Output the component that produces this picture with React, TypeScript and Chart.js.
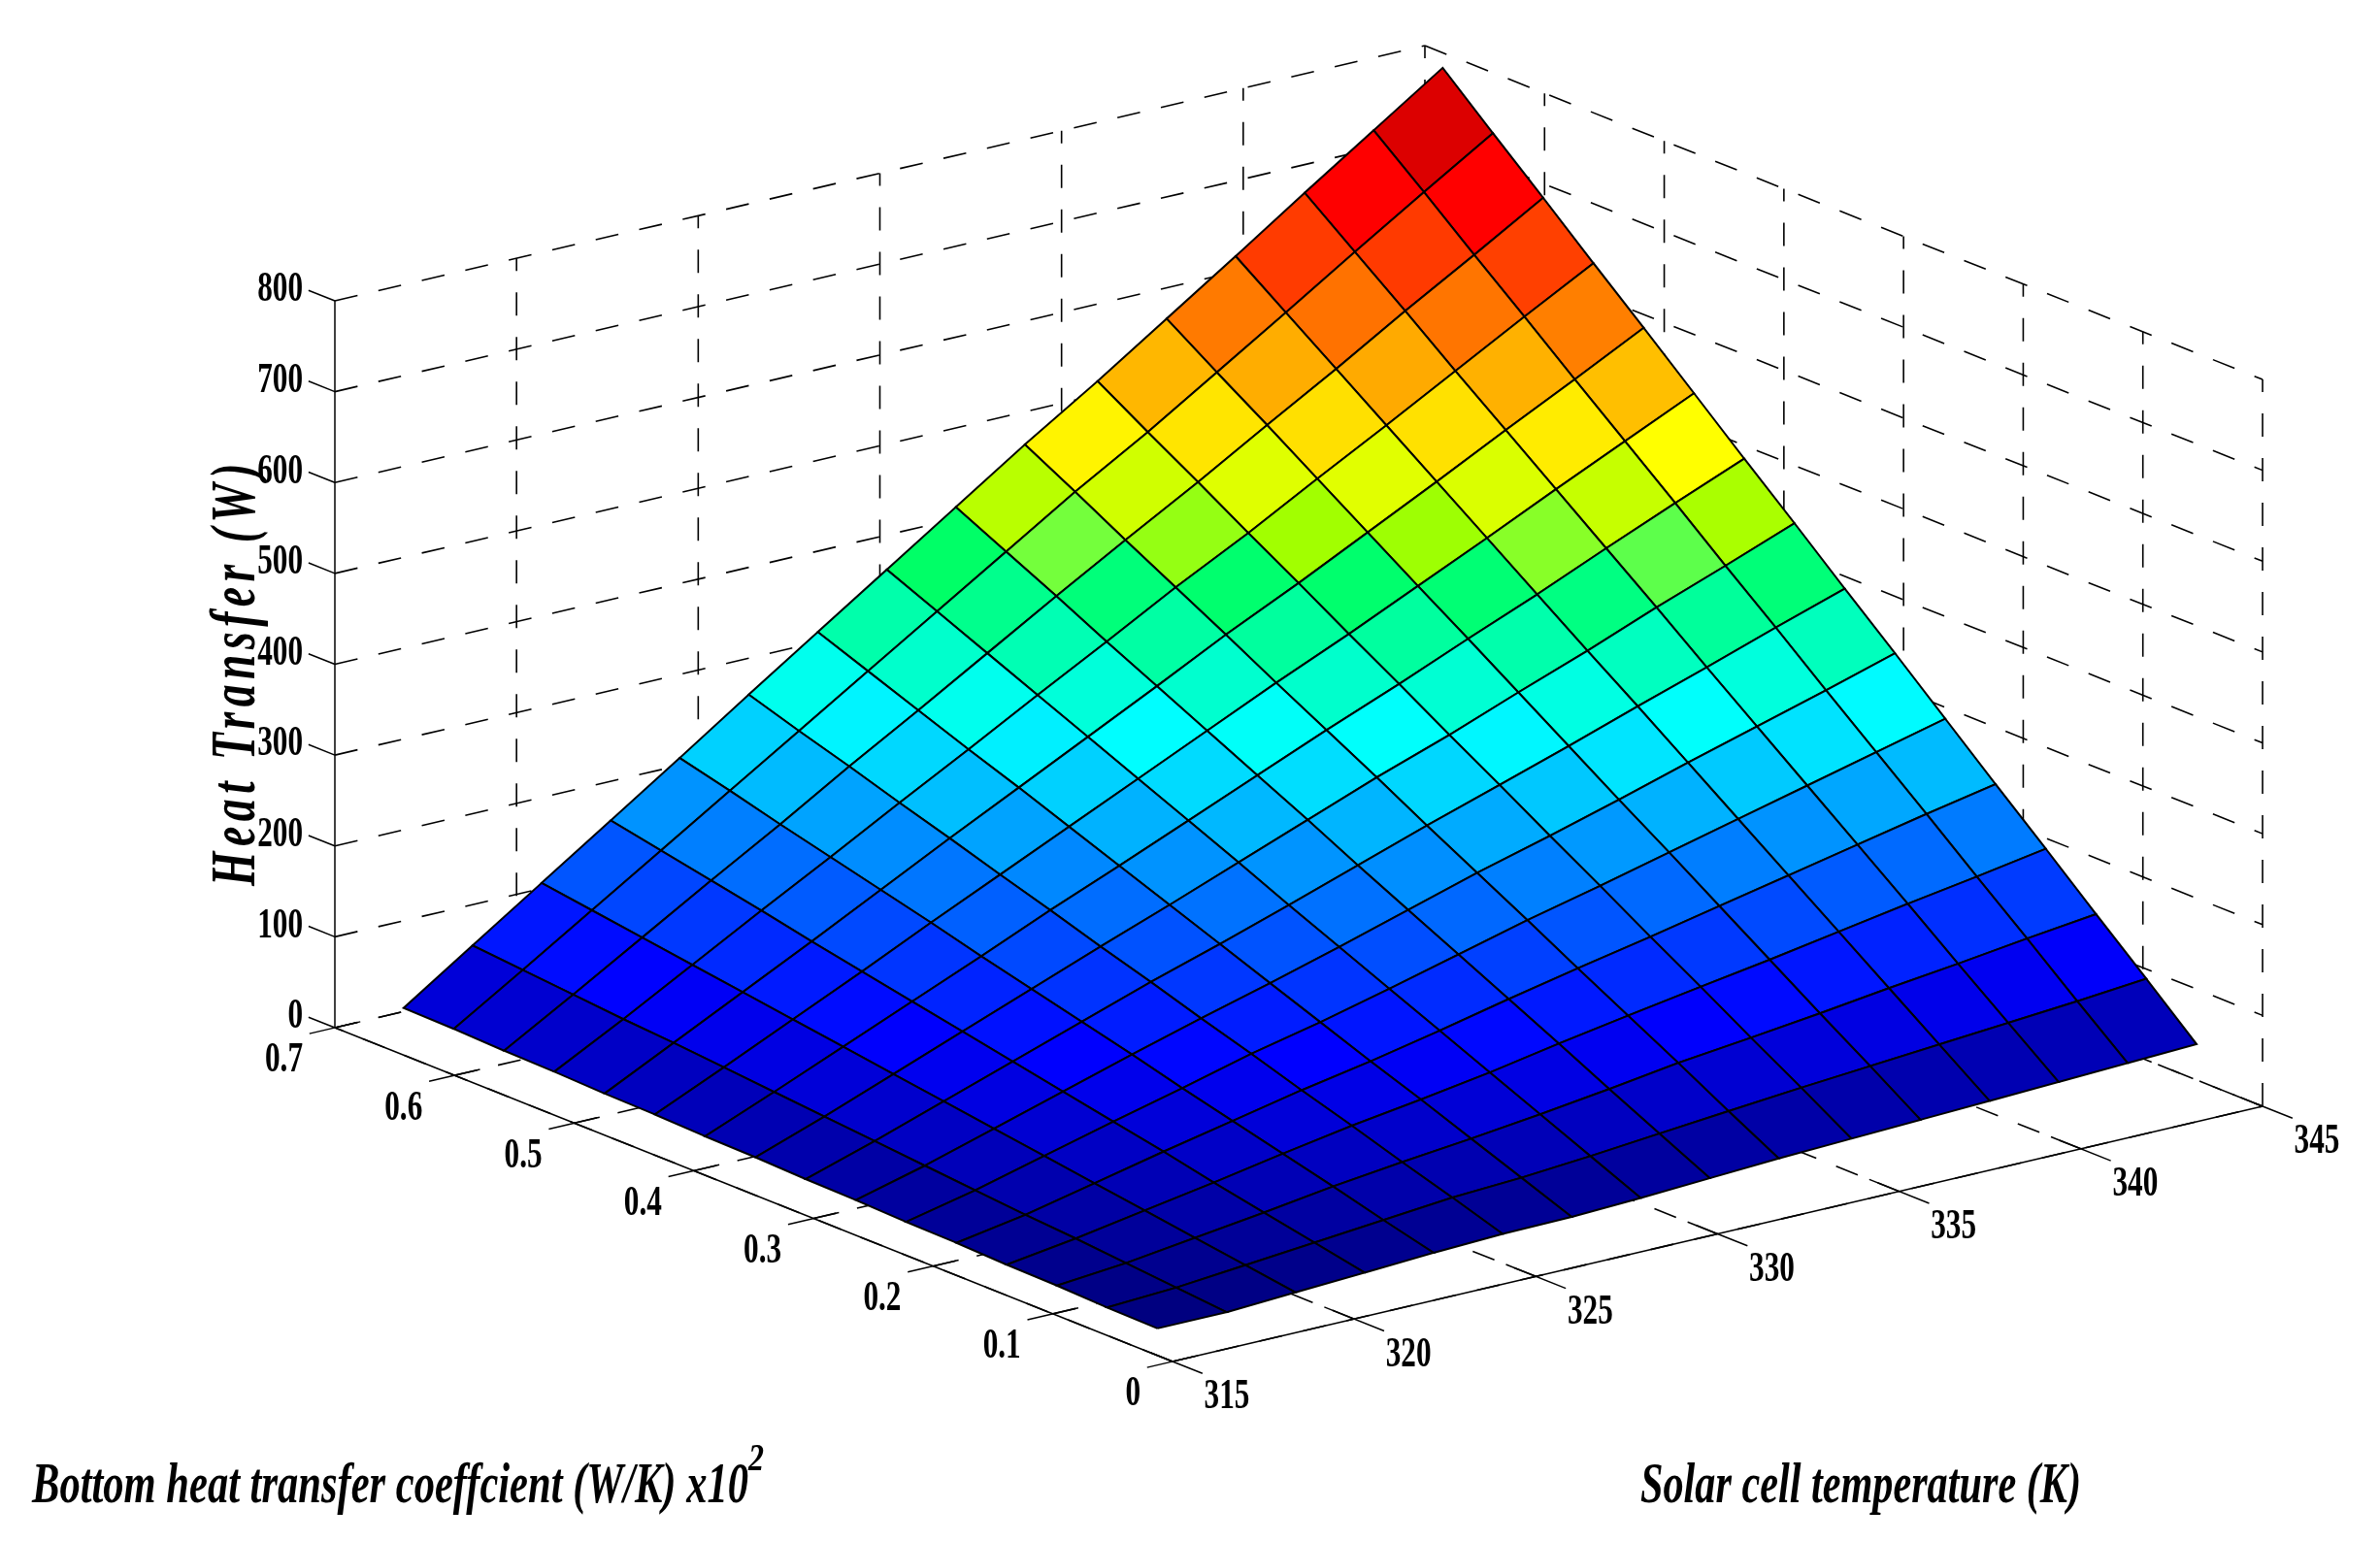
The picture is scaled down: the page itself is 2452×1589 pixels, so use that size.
import { useEffect, useRef } from "react"
import { Chart, registerables } from "chart.js"

Chart.register(...registerables)

const WIDTH = 2452
const HEIGHT = 1589

// grid of the surface
const temperatures = [316.1, 318.0, 319.9, 321.8, 323.7, 325.6, 327.5, 329.4, 331.3, 333.2, 335.2, 337.1, 339.0, 340.9, 342.8, 344.7]
const coefficients = [0.046, 0.088, 0.13, 0.172, 0.214, 0.256, 0.298, 0.34, 0.382, 0.424, 0.466, 0.508, 0.55, 0.592, 0.634, 0.676]

// heat transfer (W), one row per temperature, one column per coefficient
const heatTransfer = [
  [2, 3, 5, 6, 8, 9, 11, 12, 14, 15, 17, 18, 20, 21, 23, 24],
  [2, 7, 12, 17, 21, 26, 31, 36, 41, 46, 51, 56, 60, 65, 70, 75],
  [6, 14, 22, 30, 38, 46, 54, 62, 70, 78, 86, 94, 102, 110, 118, 126],
  [10, 21, 32, 43, 55, 66, 77, 88, 99, 110, 121, 132, 144, 155, 166, 177],
  [14, 28, 43, 57, 71, 85, 100, 114, 128, 142, 157, 171, 185, 199, 214, 228],
  [17, 35, 52, 70, 87, 105, 122, 140, 157, 175, 192, 210, 227, 245, 262, 280],
  [18, 39, 60, 81, 101, 122, 143, 164, 185, 206, 227, 248, 268, 289, 310, 331],
  [21, 45, 69, 93, 117, 141, 165, 189, 214, 238, 262, 286, 310, 334, 358, 382],
  [25, 52, 79, 107, 134, 161, 188, 215, 243, 270, 297, 324, 351, 379, 406, 433],
  [29, 59, 90, 120, 150, 181, 211, 241, 272, 302, 332, 363, 393, 423, 454, 484],
  [32, 66, 99, 133, 166, 200, 233, 267, 300, 334, 367, 401, 434, 468, 501, 535],
  [35, 72, 108, 145, 182, 219, 255, 292, 329, 366, 402, 439, 476, 513, 549, 586],
  [38, 78, 118, 158, 198, 238, 278, 318, 357, 397, 437, 477, 517, 557, 597, 637],
  [41, 84, 127, 171, 214, 257, 300, 343, 387, 430, 473, 516, 559, 603, 646, 689],
  [44, 90, 137, 183, 230, 276, 322, 369, 415, 462, 508, 554, 601, 647, 694, 740],
  [47, 97, 146, 196, 245, 295, 345, 394, 444, 493, 543, 593, 642, 692, 741, 791],
]

const temperatureTicks = [315, 320, 325, 330, 335, 340, 345]
const coefficientTicks = [0, 0.1, 0.2, 0.3, 0.4, 0.5, 0.6, 0.7]
const heatTicks = [0, 100, 200, 300, 400, 500, 600, 700, 800]

const T_MIN = 315
const T_MAX = 345
const U_MAX = 0.7
const Q_MAX = 800

// orthographic view of the box, the same as MATLAB's view(az, el)
function project(t: number, u: number, q: number) {
  const a = (t - T_MIN) / (T_MAX - T_MIN)
  const b = u / U_MAX
  return {
    x: 1208 + 1123 * a - 863 * b,
    y: 1403 - 263 * a - 344 * b - (749 * q) / Q_MAX,
  }
}

// jet-like map, the greens of the original palette are not quite jet
const jetStops: [number, number, number, number][] = [
  [0, 0, 0, 128],
  [0.125, 0, 0, 255],
  [0.375, 0, 255, 255],
  [0.515, 0, 255, 100],
  [0.52, 85, 255, 80],
  [0.54, 130, 255, 50],
  [0.552, 160, 255, 0],
  [0.585, 200, 255, 0],
  [0.622, 255, 255, 0],
  [0.875, 255, 0, 0],
  [1, 185, 0, 0],
]

function colorFor(q: number) {
  const f = Math.min(1, (q - 2) / (791 - 2))
  for (let i = 1; i < jetStops.length; i++) {
    const [f1, r1, g1, b1] = jetStops[i]
    if (f <= f1) {
      const [f0, r0, g0, b0] = jetStops[i - 1]
      const k = (f - f0) / (f1 - f0)
      return `rgb(${Math.round(r0 + (r1 - r0) * k)},${Math.round(g0 + (g1 - g0) * k)},${Math.round(b0 + (b1 - b0) * k)})`
    }
  }
  return "rgb(185,0,0)"
}

function lineSet(data: { x: number; y: number }[], dashed: boolean) {
  return {
    data,
    showLine: true,
    fill: false,
    borderColor: "#000",
    borderWidth: dashed ? 1.6 : 1.5,
    borderDash: dashed ? [24, 22] : [],
    pointRadius: 0,
    tension: 0,
  }
}

function buildDatasets() {
  const sets: any[] = []

  // axis lines and tick marks, on top
  sets.push(lineSet([project(T_MIN, U_MAX, 0), project(T_MIN, U_MAX, Q_MAX)], false))
  sets.push(lineSet([project(T_MIN, U_MAX, 0), project(T_MIN, 0, 0)], false))
  sets.push(lineSet([project(T_MIN, 0, 0), project(T_MAX, 0, 0)], false))
  heatTicks.forEach((q) => {
    sets.push(lineSet([project(T_MIN, U_MAX, q), project(T_MIN, U_MAX + 0.022, q)], false))
  })
  coefficientTicks.forEach((u) => {
    sets.push(lineSet([project(T_MIN - 0.7, u, 0), project(T_MIN + 0.7, u, 0)], false))
  })
  temperatureTicks.forEach((t) => {
    sets.push(lineSet([project(t, 0.025, 0), project(t, -0.025, 0)], false))
  })

  // surface cells, colour taken from one corner as with flat shading
  for (let i = 0; i < temperatures.length - 1; i++) {
    for (let j = 0; j < coefficients.length - 1; j++) {
      const t0 = temperatures[i]
      const t1 = temperatures[i + 1]
      const u0 = coefficients[j]
      const u1 = coefficients[j + 1]
      const first = project(t0, u0, heatTransfer[i][j])
      sets.push({
        data: [first, project(t1, u0, heatTransfer[i + 1][j]), project(t1, u1, heatTransfer[i + 1][j + 1]), project(t0, u1, heatTransfer[i][j + 1]), first],
        showLine: true,
        fill: "shape",
        backgroundColor: colorFor(heatTransfer[i + 1][j]),
        borderColor: "#000",
        borderWidth: 2,
        pointRadius: 0,
        tension: 0,
      })
    }
  }

  // dashed box grid, underneath everything
  heatTicks.forEach((q) => {
    sets.push(lineSet([project(T_MIN, U_MAX, q), project(T_MAX, U_MAX, q)], true))
    sets.push(lineSet([project(T_MAX, U_MAX, q), project(T_MAX, 0, q)], true))
  })
  temperatureTicks.slice(1).forEach((t) => {
    sets.push(lineSet([project(t, U_MAX, 0), project(t, U_MAX, Q_MAX)], true))
  })
  coefficientTicks.slice(0, -1).forEach((u) => {
    sets.push(lineSet([project(T_MAX, u, 0), project(T_MAX, u, Q_MAX)], true))
  })
  temperatureTicks.forEach((t) => {
    sets.push(lineSet([project(t, 0, 0), project(t, U_MAX, 0)], true))
  })
  coefficientTicks.forEach((u) => {
    sets.push(lineSet([project(T_MIN, u, 0), project(T_MAX, u, 0)], true))
  })
  return sets
}

const SERIF = '"Liberation Serif", "Times New Roman", serif'

function drawText(ctx: CanvasRenderingContext2D, text: string, x: number, y: number, font: string, align: CanvasTextAlign, scaleX: number) {
  ctx.save()
  ctx.translate(x, y)
  ctx.scale(scaleX, 1)
  ctx.font = font
  ctx.fillStyle = "#000"
  ctx.textAlign = align
  ctx.textBaseline = "middle"
  ctx.fillText(text, 0, 0)
  ctx.restore()
}

function drawFitted(ctx: CanvasRenderingContext2D, text: string, x: number, y: number, font: string, width: number, angle = 0, spacing = "0px") {
  ctx.save()
  ctx.font = font
  ctx.letterSpacing = spacing
  const natural = ctx.measureText(text).width
  ctx.translate(x, y)
  ctx.rotate(angle)
  ctx.scale(width / natural, 1)
  ctx.fillStyle = "#000"
  ctx.textAlign = "left"
  ctx.textBaseline = "alphabetic"
  ctx.fillText(text, 0, 0)
  ctx.restore()
}

const axisText = {
  id: "axisText",
  afterDraw(chart: any) {
    const { ctx, scales } = chart
    const px = (p: { x: number; y: number }) => ({ x: scales.x.getPixelForValue(p.x), y: scales.y.getPixelForValue(p.y) })
    const tickFont = `bold 44px ${SERIF}`

    heatTicks.forEach((q) => {
      const p = px(project(T_MIN, U_MAX, q))
      drawText(ctx, String(q), p.x - 33, p.y - 11, tickFont, "right", 0.71)
    })
    coefficientTicks.forEach((u) => {
      const p = px(project(T_MIN, u, 0))
      drawText(ctx, String(u), p.x - 33, p.y + 34, tickFont, "right", 0.71)
    })
    temperatureTicks.forEach((t) => {
      const p = px(project(t, 0, 0))
      drawText(ctx, String(t), p.x + 56, p.y + 37, tickFont, "center", 0.71)
    })

    drawFitted(ctx, "Heat Transfer (W)", 262, 913, `italic bold 66px ${SERIF}`, 441, -Math.PI / 2, "8px")
    drawFitted(ctx, "Bottom heat transfer coeffcient (W/K) x10", 33, 1548, `italic bold 60px ${SERIF}`, 738)
    drawFitted(ctx, "2", 771, 1515, `italic bold 40px ${SERIF}`, 16)
    drawFitted(ctx, "Solar cell temperature (K)", 1690, 1548, `italic bold 60px ${SERIF}`, 454)
  },
}

export default function App() {
  const chartRef = useRef<HTMLCanvasElement>(null)

  useEffect(() => {
    if (!chartRef.current) return
    const chart = new Chart(chartRef.current, {
      type: "scatter",
      data: { datasets: buildDatasets() },
      options: {
        responsive: false,
        devicePixelRatio: 1,
        animation: false,
        layout: { padding: 0 },
        plugins: { legend: { display: false }, tooltip: { enabled: false } },
        scales: {
          x: { type: "linear", display: false, min: 0, max: WIDTH },
          y: { type: "linear", display: false, min: 0, max: HEIGHT, reverse: true },
        },
      },
      plugins: [axisText],
    })
    return () => chart.destroy()
  }, [])

  return (
    <div style={{ position: "absolute", left: 0, top: 0, width: WIDTH, height: HEIGHT, background: "#fff" }}>
      <canvas ref={chartRef} width={WIDTH} height={HEIGHT} style={{ display: "block" }} />
    </div>
  )
}
